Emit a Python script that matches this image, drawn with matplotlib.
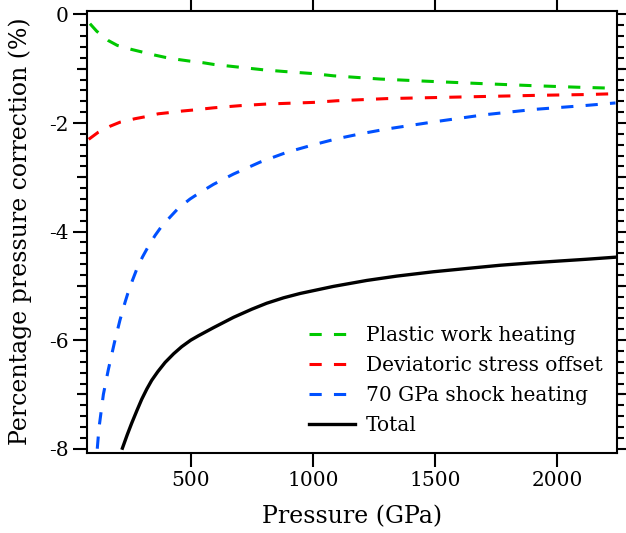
import numpy as np
import matplotlib
matplotlib.use("Agg")
import matplotlib.pyplot as plt
from matplotlib.ticker import MultipleLocator, FixedLocator, NullLocator

plt.rcParams.update({
    "font.family": ["DejaVu Serif"],
    "axes.linewidth": 1.5,
    "axes.unicode_minus": False,
})

# values (pressure in GPa, correction in %)
plastic_p = [87, 115, 162, 199, 258, 299, 354, 395, 449, 497, 552, 593, 675, 798, 880,
             1003, 1084, 1276, 1467, 1672, 1891, 2082, 2240]
plastic_c = [-0.17, -0.31, -0.48, -0.57, -0.645, -0.69, -0.75, -0.79, -0.83, -0.86, -0.89,
             -0.92, -0.96, -1.02, -1.05, -1.09, -1.13, -1.19, -1.23, -1.27, -1.31, -1.34, -1.36]

dev_p = [82, 121, 169, 210, 272, 313, 367, 408, 463, 511, 593, 702, 812, 907, 1003, 1098,
         1303, 1508, 1713, 1918, 2123, 2240]
dev_c = [-2.30, -2.17, -2.06, -1.985, -1.92, -1.885, -1.83, -1.81, -1.78, -1.76, -1.72,
         -1.68, -1.65, -1.635, -1.62, -1.59, -1.55, -1.53, -1.51, -1.49, -1.475, -1.46]

shock_p = [117, 124, 142, 162, 187, 210, 231, 242, 261, 279, 302, 324, 354, 381, 422, 449,
           497, 531, 593, 675, 784, 893, 1003, 1098, 1194, 1303, 1494, 1699, 1904, 2109, 2240]
shock_c = [-8.0, -7.62, -7.0, -6.55, -6.05, -5.63, -5.30, -5.14, -4.90, -4.69, -4.47, -4.29,
           -4.07, -3.90, -3.70, -3.57, -3.40, -3.30, -3.13, -2.94, -2.72, -2.54, -2.40, -2.29,
           -2.20, -2.11, -1.98, -1.85, -1.75, -1.68, -1.63]

total_p = [220, 240, 258, 280, 299, 320, 340, 365, 395, 430, 463, 500, 531, 593, 675, 750,
           811, 880, 948, 1084, 1221, 1344, 1494, 1630, 1768, 1900, 2000, 2120, 2245]
total_c = [-7.99, -7.74, -7.53, -7.29, -7.09, -6.90, -6.74, -6.58, -6.41, -6.25, -6.12,
           -6.00, -5.92, -5.77, -5.58, -5.43, -5.32, -5.22, -5.14, -5.01, -4.90, -4.82,
           -4.74, -4.68, -4.62, -4.575, -4.545, -4.51, -4.47]

XLIM = (75, 2246)
YLIM = (-8.07, 0.07)
POS = [0.139, 0.151, 0.8466, 0.829]

fig = plt.figure(figsize=(6.26, 5.33), dpi=100)

# overlay axes just for the medium-length ticks at odd integers
med = fig.add_axes(POS, frameon=False)
med.set_ylim(*YLIM)
med.xaxis.set_major_locator(NullLocator())
med.yaxis.set_major_locator(FixedLocator([-1, -3, -5, -7]))
med.yaxis.set_minor_locator(NullLocator())
med.tick_params(axis="y", direction="out", length=7, width=1.5, left=True, right=True,
                labelleft=False, labelright=False)

ax = fig.add_axes(POS)
ax.patch.set_visible(False)

dash = (0, (4, 4))
ax.plot(plastic_p, plastic_c, color="#00c800", lw=2.2, ls=dash, label="Plastic work heating")
ax.plot(dev_p, dev_c, color="#ff0000", lw=2.2, ls=dash, label="Deviatoric stress offset")
ax.plot(shock_p, shock_c, color="#0050ff", lw=2.2, ls=dash, label="70 GPa shock heating")
ax.plot(total_p, total_c, color="black", lw=2.4, label="Total")

ax.set_xlim(*XLIM)
ax.set_ylim(*YLIM)
ax.xaxis.set_major_locator(MultipleLocator(500))
ax.yaxis.set_major_locator(MultipleLocator(2))
ax.yaxis.set_minor_locator(MultipleLocator(0.2))
ax.tick_params(axis="both", which="major", direction="out", length=10, width=1.5,
               labelsize=14.5, top=True, right=True, labelright=False, labeltop=False)
ax.tick_params(axis="y", which="minor", direction="out", length=5, width=1.5,
               left=True, right=True)
ax.tick_params(axis="x", which="minor", bottom=False, top=False)

ax.set_xlabel("Pressure (GPa)", fontsize=17, labelpad=11)
ax.set_ylabel("Percentage pressure correction (%)", fontsize=17, labelpad=12)

ax.legend(loc="lower right", bbox_to_anchor=(1.0, 0.008), frameon=False, fontsize=14.5,
          handlelength=2.3, handletextpad=0.55, labelspacing=0.55, borderaxespad=0.3)

fig.savefig("out.png", dpi=100)
